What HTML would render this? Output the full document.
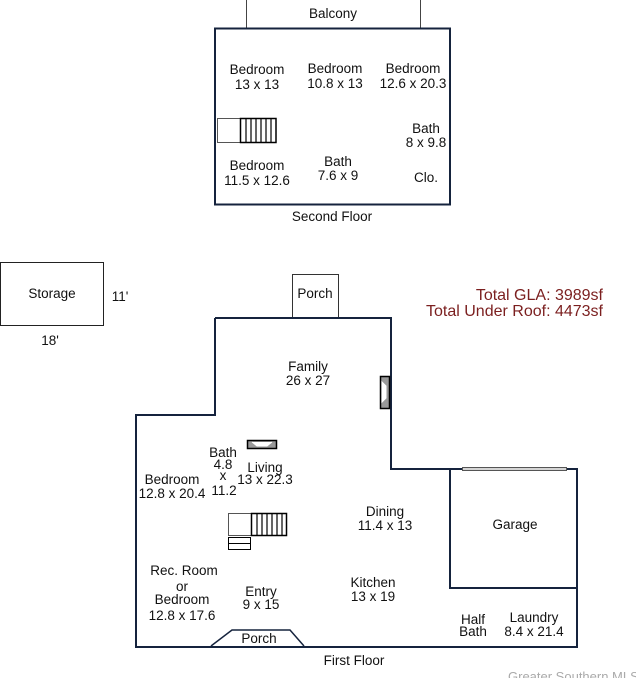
<!DOCTYPE html>
<html><head><meta charset="utf-8"><style>
html,body{margin:0;padding:0;background:#fff;overflow:hidden;}
svg{display:block;}
text{font-family:"Liberation Sans",Arial,sans-serif;font-size:13.5px;fill:#111;text-anchor:middle;}
.r{fill:#7b1f1f;font-size:16px;text-anchor:end;}
</style></head><body>
<svg width="636" height="678" viewBox="0 0 636 678" xmlns="http://www.w3.org/2000/svg">
<g fill="none" stroke="#15233d">
<line x1="246.5" y1="0" x2="246.5" y2="28" stroke="#444" stroke-width="1"/>
<line x1="420.5" y1="0" x2="420.5" y2="28" stroke="#444" stroke-width="1"/>
<rect x="215" y="28.5" width="235" height="176" stroke-width="2"/>
<rect x="217.5" y="118.5" width="23" height="24" stroke="#555" stroke-width="1"/>
<rect x="240.5" y="118.5" width="35.5" height="24" stroke="#000" stroke-width="1.5"/>
<path d="M246 118v24M251 118v24M256 118v24M261 118v24M266 118v24M271 118v24" stroke="#000" stroke-width="1.2"/>
<rect x="0.5" y="262.5" width="103" height="63" stroke="#222" stroke-width="1"/>
<rect x="292.5" y="274.5" width="46" height="44" stroke="#333" stroke-width="1"/>
<path d="M215 318H391V469H450M136 415H215V318M136 414V647H577V588M450 469V588H577V469H450" stroke-width="2"/>
<line x1="462" y1="469" x2="567" y2="469" stroke="#555" stroke-width="4"/>
<line x1="463" y1="469" x2="566" y2="469" stroke="#fff" stroke-width="1.5"/>
<path d="M211 646L232 630H290L304 646" stroke="#15233d" stroke-width="1.5"/>
<rect x="247.5" y="440.5" width="29" height="8" stroke="#000" stroke-width="1.5" fill="#999"/>
<path d="M252 442L257 446H267L272 442" stroke="#fff" fill="#fff"/>
<rect x="380.5" y="376.5" width="9" height="32" stroke="#000" stroke-width="1.5" fill="#999"/>
<path d="M382 382L386 386V398L382 402Z" stroke="#fff" fill="#fff"/>
<rect x="228.5" y="513.5" width="23" height="22" stroke="#555" stroke-width="1"/>
<rect x="251.5" y="513.5" width="35" height="22" stroke="#000" stroke-width="1.5"/>
<path d="M257 513v22M262 513v22M267 513v22M272 513v22M277 513v22M282 513v22" stroke="#000" stroke-width="1.2"/>
<rect x="228.5" y="537.5" width="22" height="12" stroke="#000" stroke-width="1"/>
<line x1="228" y1="543.5" x2="251" y2="543.5" stroke="#000" stroke-width="1"/>
</g>
<text x="333" y="18">Balcony</text>
<text x="257" y="74">Bedroom</text><text x="257" y="89">13 x 13</text>
<text x="335" y="73">Bedroom</text><text x="335" y="88">10.8 x 13</text>
<text x="413" y="73">Bedroom</text><text x="413" y="88">12.6 x 20.3</text>
<text x="426" y="133">Bath</text><text x="426" y="147">8 x 9.8</text>
<text x="257" y="170">Bedroom</text><text x="257" y="185">11.5 x 12.6</text>
<text x="338" y="166">Bath</text><text x="338" y="180">7.6 x 9</text>
<text x="426" y="182">Clo.</text>
<text x="332" y="221">Second Floor</text>
<text x="52" y="298">Storage</text>
<text x="120" y="301">11'</text>
<text x="50" y="345">18'</text>
<text x="315" y="298">Porch</text>
<text class="r" x="603" y="300">Total GLA: 3989sf</text>
<text class="r" x="603" y="316">Total Under Roof: 4473sf</text>
<text x="308" y="371">Family</text><text x="308" y="385">26 x 27</text>
<text x="223" y="457">Bath</text><text x="223" y="469">4.8</text><text x="223" y="480">x</text><text x="224" y="495">11.2</text>
<text x="265" y="472">Living</text><text x="265" y="484">13 x 22.3</text>
<text x="172" y="484">Bedroom</text><text x="172" y="498">12.8 x 20.4</text>
<text x="385" y="516">Dining</text><text x="385" y="530">11.4 x 13</text>
<text x="515" y="529">Garage</text>
<text x="184" y="575">Rec. Room</text><text x="182" y="591">or</text><text x="182" y="604">Bedroom</text><text x="182" y="620">12.8 x 17.6</text>
<text x="261" y="596">Entry</text><text x="261" y="609">9 x 15</text>
<text x="373" y="587">Kitchen</text><text x="373" y="601">13 x 19</text>
<text x="473" y="624">Half</text><text x="473" y="636">Bath</text>
<text x="534" y="622">Laundry</text><text x="534" y="636">8.4 x 21.4</text>
<text x="259" y="643">Porch</text>
<text x="354" y="665">First Floor</text>
<text x="508" y="681" style="text-anchor:start;fill:#aaa;font-size:13px">Greater Southern MLS</text>
</svg>
</body></html>
